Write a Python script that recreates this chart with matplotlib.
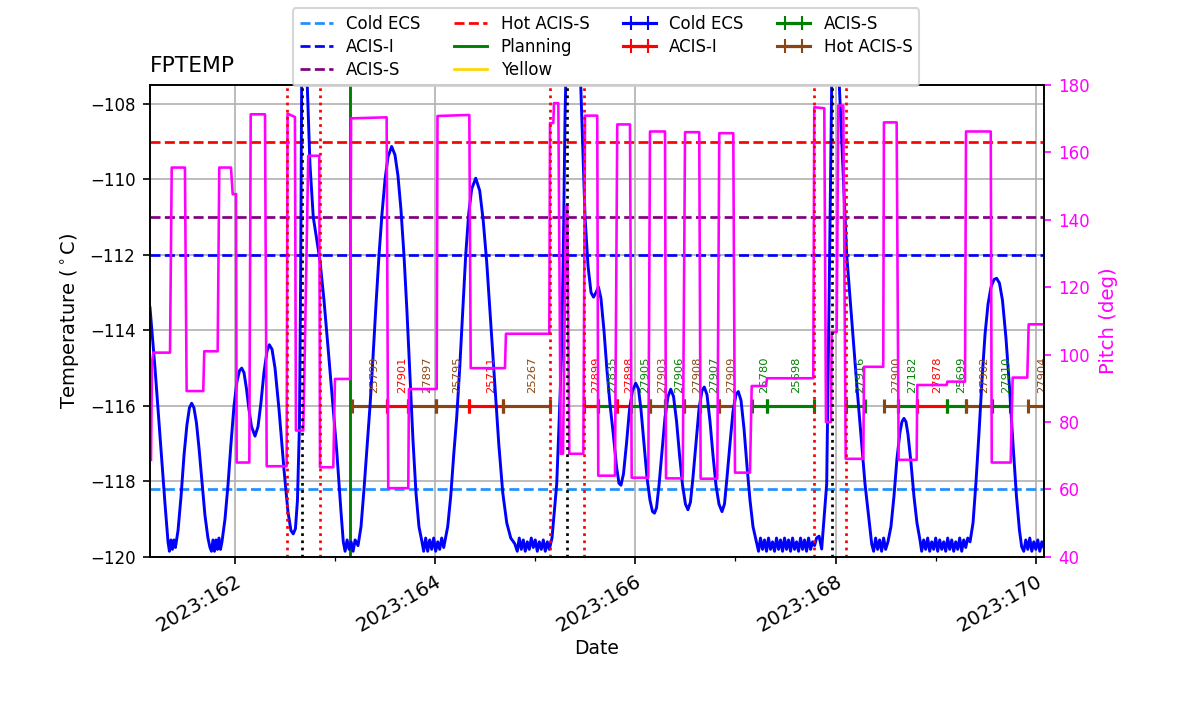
import numpy as np
import matplotlib
matplotlib.use("Agg")
import matplotlib.pyplot as plt
from matplotlib.lines import Line2D
from matplotlib.ticker import MultipleLocator, FuncFormatter

plt.rcParams["font.size"] = 8

# FPTEMP model, time in 2023 day-of-year, degC
fptemp_day = [
    161.151, 161.201, 161.251, 161.301, 161.331, 161.345, 161.360, 161.375, 161.390, 161.405,
    161.431, 161.461, 161.491, 161.520, 161.545, 161.567, 161.590, 161.615, 161.640, 161.670,
    161.700, 161.730, 161.750, 161.765, 161.780, 161.795, 161.810, 161.825, 161.840, 161.855,
    161.870, 161.900, 161.930, 161.960, 161.990, 162.020, 162.045, 162.067, 162.090, 162.115,
    162.140, 162.165, 162.200, 162.230, 162.260, 162.290, 162.320, 162.343, 162.370, 162.400,
    162.440, 162.490, 162.529, 162.559, 162.582, 162.604, 162.624, 162.644, 162.656, 162.666,
    162.694, 162.722, 162.749, 162.782, 162.849, 162.889, 162.932, 163.016, 163.059, 163.082,
    163.100, 163.120, 163.140, 163.160, 163.180, 163.200,
    163.229, 163.259, 163.289, 163.319, 163.349, 163.379, 163.409, 163.439, 163.469, 163.499,
    163.529, 163.565, 163.598, 163.628, 163.658, 163.688, 163.718, 163.748, 163.778, 163.808,
    163.838, 163.868,
    163.885, 163.905, 163.925, 163.945, 163.965, 163.985, 164.005, 164.025, 164.045, 164.065,
    164.085,
    164.125, 164.155, 164.185, 164.215, 164.245, 164.275, 164.305, 164.335, 164.365, 164.405,
    164.445, 164.480, 164.515, 164.555, 164.595, 164.635, 164.675, 164.715, 164.755, 164.795,
    164.820, 164.840, 164.860, 164.880, 164.900, 164.920, 164.940, 164.960, 164.980, 165.000,
    165.020, 165.040, 165.060, 165.080, 165.100, 165.120, 165.140,
    165.167, 165.214, 165.237, 165.264, 165.282, 165.297, 165.312, 165.377, 165.454,
    165.497, 165.527, 165.557, 165.582, 165.606, 165.631, 165.656, 165.686, 165.716, 165.746,
    165.779, 165.811, 165.836, 165.856, 165.881, 165.911, 165.941, 165.971, 166.003, 166.031,
    166.056, 166.086, 166.116, 166.146, 166.171, 166.191, 166.211, 166.236, 166.266, 166.296,
    166.326, 166.353, 166.381, 166.411, 166.441, 166.471, 166.500, 166.525, 166.550, 166.575,
    166.605, 166.635, 166.665, 166.688, 166.715, 166.745, 166.775, 166.805, 166.835, 166.865,
    166.890, 166.915, 166.945, 166.975, 167.005, 167.028, 167.055, 167.085, 167.115, 167.145,
    167.175, 167.212,
    167.230, 167.250, 167.270, 167.290, 167.310, 167.330, 167.350, 167.370, 167.390, 167.410,
    167.430, 167.450, 167.470, 167.490, 167.510, 167.530, 167.550, 167.570, 167.590, 167.610,
    167.630, 167.650, 167.670, 167.690, 167.710, 167.730, 167.750, 167.770, 167.790, 167.810,
    167.835, 167.861, 167.911, 167.937, 167.961, 167.999, 168.037, 168.111, 168.211, 168.294,
    168.361,
    168.380, 168.400, 168.420, 168.440, 168.460, 168.480, 168.500,
    168.523, 168.553, 168.583, 168.613, 168.643, 168.663, 168.683, 168.703, 168.723, 168.753,
    168.783, 168.813, 168.843,
    168.860, 168.880, 168.900, 168.920, 168.940, 168.960, 168.980, 169.000, 169.020, 169.040,
    169.060, 169.080, 169.100, 169.120, 169.140, 169.160, 169.180, 169.200, 169.220, 169.240,
    169.260, 169.280, 169.300, 169.320,
    169.343, 169.373, 169.403, 169.433, 169.463, 169.493, 169.523, 169.553, 169.583, 169.609,
    169.637, 169.667, 169.702, 169.737, 169.772, 169.807, 169.837, 169.859,
    169.880, 169.900, 169.920, 169.940, 169.960, 169.980, 170.000, 170.020, 170.040, 170.060,
    170.080,
]
fptemp_degc = [
    -113.40, -115.00, -116.80, -118.60, -119.60, -119.85, -119.55, -119.80, -119.55, -119.75,
    -119.30, -118.40, -117.30, -116.50, -116.05, -115.93, -116.05, -116.45, -117.10, -118.00,
    -118.90, -119.50, -119.75, -119.85, -119.55, -119.85, -119.55, -119.80, -119.50, -119.80,
    -119.60, -119.00, -118.10, -117.00, -116.00, -115.35, -115.07, -115.00, -115.12, -115.55,
    -116.10, -116.55, -116.80, -116.55, -115.90, -115.10, -114.55, -114.38, -114.50, -115.00,
    -116.10, -117.70, -118.80, -119.30, -119.39, -119.25, -118.50, -116.50, -112.50, -107.50,
    -103.00, -107.50, -109.60, -111.00, -112.15, -113.20, -114.53, -117.18, -118.80, -119.60,
    -119.85, -119.55, -119.80, -119.60, -119.85, -119.55,
    -119.70, -119.20, -118.20, -117.10, -116.00, -114.70, -113.30, -112.00, -110.90, -110.00,
    -109.40, -109.13, -109.35, -109.90, -110.80, -112.00, -113.50, -115.20, -116.90, -118.30,
    -119.20, -119.60,
    -119.85, -119.50, -119.85, -119.55, -119.80, -119.50, -119.85, -119.60, -119.80, -119.50,
    -119.75,
    -119.20, -118.40, -117.30, -116.30, -115.00, -113.50, -112.00, -110.90, -110.25, -109.97,
    -110.30, -111.10, -112.20, -113.80, -115.40, -117.00, -118.30, -119.10, -119.50, -119.65,
    -119.85, -119.50, -119.80, -119.55, -119.85, -119.60, -119.80, -119.50, -119.75, -119.55,
    -119.85, -119.60, -119.80, -119.55, -119.85, -119.60, -119.80,
    -119.50, -118.07, -116.50, -114.50, -111.50, -108.35, -106.50, -101.00, -107.50,
    -111.00, -112.30, -113.00, -113.12, -113.00, -112.85, -113.15, -114.00, -115.05, -115.95,
    -116.74, -117.60, -118.05, -118.10, -117.80, -117.00, -116.10, -115.60, -115.40, -115.55,
    -116.10, -117.00, -117.90, -118.50, -118.80, -118.84, -118.70, -118.10, -117.20, -116.30,
    -115.75, -115.56, -115.75, -116.40, -117.30, -118.10, -118.60, -118.75, -118.55, -117.90,
    -117.00, -116.10, -115.60, -115.50, -115.70, -116.40, -117.30, -118.10, -118.60, -118.80,
    -118.60, -117.90, -117.00, -116.15, -115.70, -115.62, -115.85, -116.60, -117.60, -118.50,
    -119.20, -119.64,
    -119.85, -119.50, -119.80, -119.55, -119.85, -119.50, -119.80, -119.60, -119.85, -119.50,
    -119.80, -119.55, -119.85, -119.50, -119.80, -119.55, -119.85, -119.50, -119.80, -119.60,
    -119.85, -119.50, -119.80, -119.55, -119.85, -119.50, -119.80, -119.60, -119.70, -119.50,
    -119.45, -119.79, -118.07, -112.77, -107.50, -101.00, -107.50, -112.00, -115.42, -118.07,
    -119.66,
    -119.85, -119.50, -119.80, -119.55, -119.85, -119.50, -119.80,
    -119.60, -119.20, -118.40, -117.40, -116.70, -116.42, -116.33, -116.42, -116.75, -117.50,
    -118.40, -119.10, -119.55,
    -119.85, -119.55, -119.80, -119.50, -119.85, -119.60, -119.80, -119.50, -119.85, -119.55,
    -119.80, -119.60, -119.85, -119.50, -119.80, -119.55, -119.85, -119.60, -119.80, -119.50,
    -119.85, -119.55, -119.75, -119.50,
    -119.60, -119.10, -118.00, -116.70, -115.30, -114.10, -113.30, -112.85, -112.65, -112.62,
    -112.75, -113.20, -114.20, -115.50, -117.00, -118.40, -119.30, -119.73,
    -119.85, -119.55, -119.80, -119.50, -119.85, -119.60, -119.80, -119.55, -119.85, -119.60,
    -119.75,
]

# spacecraft pitch (deg); nan marks a data gap
pitch_day = [
    161.161, 161.171, 161.184, 161.351, 161.368, 161.500, 161.517, 161.683, 161.693, 161.827,
    161.843, 161.960, 161.977, 161.983, np.nan, 162.010, 162.017, 162.143, 162.157, 162.300,
    162.317, 162.516, 162.525, 162.599, 162.609, 162.682, 162.699, 162.732, 162.842, 162.849,
    162.982, 162.999, 163.150, 163.160, 163.515, 163.531, 163.731, 163.738, 164.015, 164.023,
    164.341, 164.355, 164.697, 164.707, 165.140, 165.147, 165.180, 165.187, 165.230, 165.254,
    165.277, 165.307, 165.320, 165.340, 165.480, 165.497, 165.619, 165.629, 165.796, 165.819,
    165.946, 165.963, 166.129, 166.146, 166.296, 166.306, 166.473, 166.496, 166.638, 166.652,
    166.818, 166.838, 166.978, 166.995, 167.145, 167.162, 167.305, 167.315, 167.777, 167.787,
    167.887, 167.904, 167.954, 167.961, 168.011, 168.027, 168.077, 168.101, 168.277, 168.284,
    168.476, 168.483, 168.610, 168.630, 168.810, 168.816, 169.110, 169.116, 169.293, 169.303,
    169.550, 169.560, 169.749, 169.769, 169.915, 169.929, 170.082,
]
pitch_deg = [
    68.8, 97.7, 100.6, 100.6, 155.5, 155.5, 89.2, 89.2, 101.0, 101.0,
    155.5, 155.5, 147.6, 147.6, np.nan, 147.6, 68.0, 68.0, 171.3, 171.3,
    66.9, 66.9, 171.5, 170.5, 77.5, 77.5, 103.7, 159.0, 159.0, 66.6,
    66.6, 92.8, 92.8, 170.1, 170.4, 60.4, 60.4, 89.8, 89.8, 170.8,
    171.1, 96.0, 96.0, 106.2, 106.2, 168.7, 168.7, 174.6, 174.6, 70.6,
    70.6, 144.2, 144.2, 70.6, 70.6, 170.9, 170.9, 64.1, 64.1, 168.3,
    168.3, 63.5, 63.5, 166.2, 166.2, 63.3, 63.3, 166.0, 166.0, 63.2,
    63.2, 165.7, 165.7, 65.0, 65.0, 90.7, 90.7, 93.0, 93.0, 173.4,
    173.1, 80.0, 80.0, 106.7, 106.7, 173.9, 173.9, 69.1, 69.1, 96.4,
    96.4, 168.9, 168.9, 68.8, 68.8, 91.0, 91.0, 92.0, 92.0, 166.2,
    166.2, 68.0, 68.0, 93.2, 93.2, 109.0, 109.0,
]

# limits
limit_names = ["Cold ECS", "ACIS-I", "ACIS-S", "Hot ACIS-S"]
limit_degc = [-118.2, -112.0, -111.0, -109.0]
limit_colors = ["dodgerblue", "blue", "purple", "red"]
planning_day = 163.149

# radiation zone entry/exit and perigee
rad_zone_days = [162.519, 162.849, 165.147, 165.487, 167.784, 168.104]
perigee_days = [162.669, 165.317, 167.964]

# observations along the bottom
obsids = ["25799", "27901", "27897", "25795", "25711", "25267", "27899", "27835", "27898",
          "27905", "27903", "27906", "27908", "27907", "27909", "25780", "25698", "27916",
          "27900", "27182", "27878", "25699", "27902", "27910", "27904"]
obs_start = [163.172, 163.516, 163.731, 164.005, 164.341, 164.680, 165.491, 165.626, 165.816,
             165.956, 166.146, 166.296, 166.486, 166.645, 166.835, 167.162, 167.318, 168.099,
             168.487, 168.623, 168.816, 169.110, 169.303, 169.560, 169.925]
obs_stop = [163.516, 163.731, 164.005, 164.341, 164.680, 165.147, 165.626, 165.816, 165.956,
            166.146, 166.296, 166.486, 166.645, 166.835, 166.985, 167.318, 167.784, 168.289,
            168.623, 168.816, 169.110, 169.303, 169.560, 169.742, 170.102]
obs_mode = ["Hot ACIS-S", "ACIS-I", "Hot ACIS-S", "Hot ACIS-S", "ACIS-I", "Hot ACIS-S",
            "ACIS-I", "ACIS-S", "ACIS-I", "ACIS-S", "Hot ACIS-S", "ACIS-S", "Hot ACIS-S",
            "ACIS-S", "Hot ACIS-S", "ACIS-S", "ACIS-S", "ACIS-S", "Hot ACIS-S", "ACIS-S",
            "ACIS-I", "ACIS-S", "Hot ACIS-S", "ACIS-S", "Hot ACIS-S"]
mode_names = ["Cold ECS", "ACIS-I", "ACIS-S", "Hot ACIS-S"]
mode_colors = {"Cold ECS": "blue", "ACIS-I": "red", "ACIS-S": "green", "Hot ACIS-S": "saddlebrown"}
obs_level = -116.0

fig = plt.figure(figsize=(8, 4.76), dpi=150)
ax = fig.add_subplot(111)
fig.subplots_adjust(left=0.125, right=0.87, bottom=0.22, top=0.881)

handles = []
for name, val, c in zip(limit_names, limit_degc, limit_colors):
    handles.append(ax.axhline(val, ls="--", color=c, lw=1.3, label=name))
handles.append(ax.axvline(planning_day, color="green", lw=1.4, label="Planning"))
handles.append(Line2D([], [], color="gold", lw=1.3, label="Yellow"))

# legend entries for the instrument modes (nothing drawn)
mode_handles = {}
for mode in mode_names:
    mode_handles[mode] = ax.errorbar([np.nan], [np.nan], xerr=[np.nan], color=mode_colors[mode],
                                     capsize=3.5, lw=1.5, label=mode)

for oid, t0, t1, mode in zip(obsids, obs_start, obs_stop, obs_mode):
    c = mode_colors[mode]
    ax.plot([t0, t1], [obs_level, obs_level], color=c, lw=1.5, solid_capstyle="butt", zorder=2.2)
    ax.plot([t0, t1], [obs_level, obs_level], ls="none", marker="|", ms=7, mew=1.5,
            color=c, zorder=2.2)
    ax.text(0.5 * (t0 + t1), obs_level + 0.33, oid, rotation=90, color=c, fontsize=5.5,
            ha="left", va="bottom")

ax.plot(fptemp_day, fptemp_degc, color="blue", lw=1.4, zorder=2.5)

ax.set_xlim(161.151, 170.082)
ax.set_ylim(-120, -107.5)
ax.xaxis.set_major_locator(MultipleLocator(2))
ax.xaxis.set_minor_locator(MultipleLocator(1))
ax.xaxis.set_major_formatter(FuncFormatter(lambda v, p: f"2023:{int(round(v)):03d}"))
ax.tick_params(axis="x", labelsize=9.5)
for lab in ax.get_xticklabels():
    lab.set_rotation(30)
    lab.set_ha("right")
    lab.set_va("top")
    lab.set_rotation_mode("anchor")
ax.grid(True)
ax.set_xlabel("Date", fontsize=9, labelpad=2)
ax.set_ylabel("Temperature ($^\\circ$C)", fontsize=9.3)
ax.set_title("FPTEMP", loc="left", fontsize=10.5)

ax2 = ax.twinx()
ax2.plot(pitch_day, pitch_deg, color="magenta", lw=1.25)
for t in rad_zone_days:
    ax2.axvline(t, color="red", ls=":", lw=1.3)
for t in perigee_days:
    ax2.axvline(t, color="black", ls=":", lw=1.3)
ax2.set_ylim(40, 180)
ax2.set_ylabel("Pitch (deg)", color="magenta", fontsize=9.5)
ax2.tick_params(axis="y", colors="magenta")

handles += [mode_handles[m] for m in mode_names]
fig.legend(handles=handles, labels=limit_names + ["Planning", "Yellow"] + mode_names,
           ncol=4, loc="upper center", bbox_to_anchor=(0.505, 1.0), fontsize=8,
           labelspacing=0.3)

fig.savefig("out.png", dpi=150)
